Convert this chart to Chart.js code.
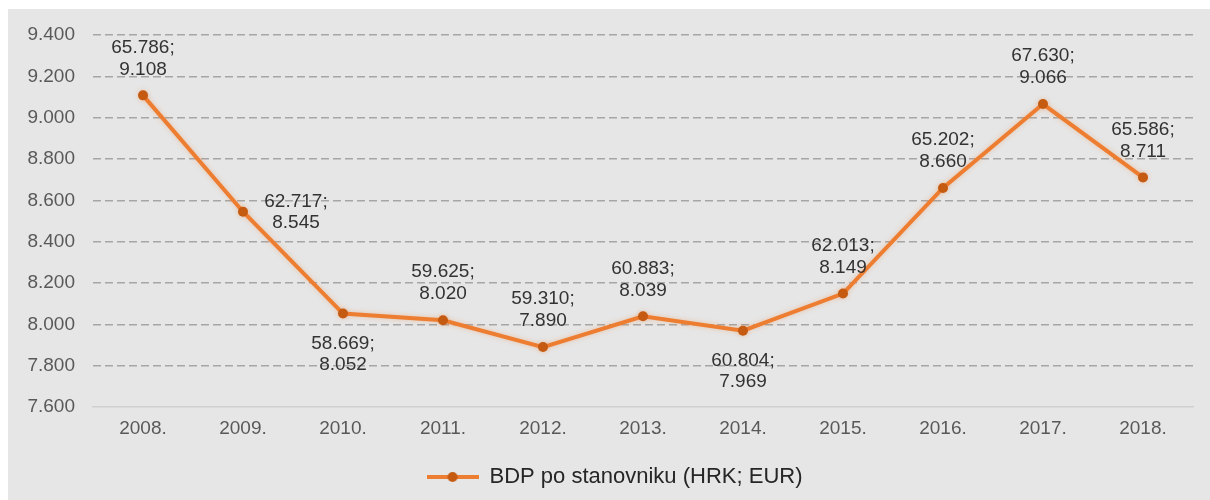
<!DOCTYPE html>
<html>
<head>
<meta charset="utf-8">
<script src="https://cdn.jsdelivr.net/npm/chart.js@4"></script>
<style>
  body { margin: 0; background: #fff; }
  .wrap { position: absolute; left: 8px; top: 9px; width: 1202px; height: 491px; background: #e6e6e6; }
</style>
</head>
<body>
<div class="wrap"><canvas id="bdp" width="1202" height="491"></canvas></div>
<script>
const years = ['2008.', '2009.', '2010.', '2011.', '2012.', '2013.', '2014.', '2015.', '2016.', '2017.', '2018.'];
const hrk = ['65.786', '62.717', '58.669', '59.625', '59.310', '60.883', '60.804', '62.013', '65.202', '67.630', '65.586'];
const eur = [9108, 8545, 8052, 8020, 7890, 8039, 7969, 8149, 8660, 9066, 8711];
const labelPos = ['above', 'right', 'below', 'above', 'above', 'above', 'below', 'above', 'above', 'above', 'above'];

const fmt = v => {
  let s = Math.round(v).toString();
  return s.length > 3 ? s.slice(0, s.length - 3) + '.' + s.slice(-3) : s;
};

// legend marker: line with a dot
const marker = document.createElement('canvas');
marker.width = 52; marker.height = 14;
let m = marker.getContext('2d');
m.strokeStyle = '#ED7D31'; m.lineWidth = 4;
m.beginPath(); m.moveTo(0, 7); m.lineTo(52, 7); m.stroke();
m.fillStyle = '#C55A11';
m.beginPath(); m.arc(26, 7, 5, 0, Math.PI * 2); m.fill();

const valueLabels = {
  id: 'valueLabels',
  afterDatasetsDraw(chart) {
    const ctx = chart.ctx;
    const meta = chart.getDatasetMeta(0);
    ctx.save();
    ctx.font = '19px "Liberation Sans", Arial, sans-serif';
    ctx.fillStyle = '#333333';
    ctx.textAlign = 'center';
    ctx.textBaseline = 'middle';
    meta.data.forEach((pt, i) => {
      const l1 = hrk[i] + ';';
      const l2 = fmt(eur[i]);
      let x = pt.x, y1, y2;
      if (labelPos[i] === 'below') { y1 = pt.y + 30; y2 = pt.y + 51; }
      else if (labelPos[i] === 'right') { x = pt.x + 53; y1 = pt.y - 10; y2 = pt.y + 11; }
      else { y1 = pt.y - 48; y2 = pt.y - 26; }
      ctx.fillText(l1, x, y1);
      ctx.fillText(l2, x, y2);
    });
    ctx.restore();
  }
};

const lineGlow = {
  id: 'lineGlow',
  beforeDatasetsDraw(chart) {
    chart.ctx.save();
    chart.ctx.shadowColor = 'rgba(237,125,49,0.35)';
    chart.ctx.shadowBlur = 5;
  },
  afterDatasetsDraw(chart) {
    chart.ctx.restore();
  }
};

// nudge the legend a bit to the right, as in the original
const legendShift = {
  id: 'legendShift',
  afterLayout(chart) {
    chart.legend.left += 28;
  }
};

const ctx = document.getElementById('bdp').getContext('2d');
const chart = new Chart(ctx, {
  type: 'line',
  data: {
    labels: years,
    datasets: [{
      label: 'BDP po stanovniku (HRK; EUR)',
      data: eur,
      borderColor: '#ED7D31',
      borderWidth: 4,
      pointBackgroundColor: '#C55A11',
      pointBorderColor: '#C55A11',
      pointRadius: 5,
      pointBorderWidth: 0,
      tension: 0
    }]
  },
  options: {
    responsive: false,
    animation: false,
    devicePixelRatio: 1,
    layout: { padding: { top: 26, right: 17, left: 0, bottom: 2 } },
    scales: {
      x: {
        offset: true,
        grid: { display: false },
        border: { display: true, color: '#d0d0d0', width: 1.5 },
        ticks: { color: '#595959', font: { size: 19, family: '"Liberation Sans", Arial' }, padding: 2, maxRotation: 0 },
        afterFit: s => { s.height = 47; }
      },
      y: {
        min: 7600,
        max: 9400,
        grid: {
          color: c => c.tick.value === 7600 ? 'rgba(0,0,0,0)' : '#a6a6a6',
          lineWidth: 1.5,
          drawTicks: false
        },
        border: { display: false, dash: [8, 4] },
        ticks: {
          stepSize: 200,
          color: '#595959',
          padding: 18,
          font: { size: 19, family: '"Liberation Sans", Arial' },
          callback: v => fmt(v)
        },
        afterFit: s => { s.width = 85; s.paddingTop = 0; s.paddingBottom = 0; }
      }
    },
    plugins: {
      legend: {
        position: 'bottom',
        labels: {
          color: '#262626',
          font: { size: 22, family: '"Liberation Sans", Arial' },
          usePointStyle: true,
          pointStyleWidth: 52,
          padding: 12,
          generateLabels: c => {
            const items = Chart.defaults.plugins.legend.labels.generateLabels(c);
            items.forEach(it => { it.pointStyle = marker; });
            return items;
          }
        }
      },
      tooltip: { enabled: false }
    }
  },
  plugins: [lineGlow, valueLabels, legendShift]
});
</script>
</body>
</html>
